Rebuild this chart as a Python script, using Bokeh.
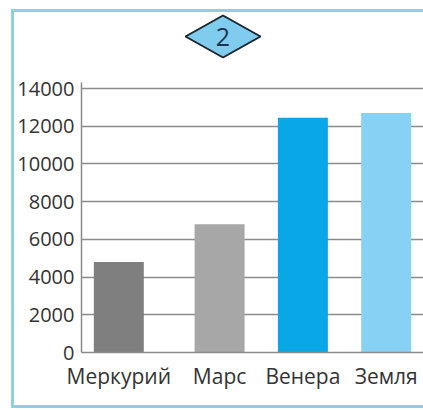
from bokeh.plotting import figure
from bokeh.models import (FactorRange, Range1d, PolyAnnotation,
                          Label, ColumnDataSource, FixedTicker)
from bokeh.embed import file_html
from bokeh.resources import INLINE

# ---- data ----
planets = ["Меркурий", "Марс", "Венера", "Земля"]
groups = ["a", "b", "b", "b"]
values = [4800, 6800, 12450, 12700]
colors = ["#7f7f7f", "#a7a7a7", "#0aa7e7", "#87d1f4"]
y_ticks = [0, 2000, 4000, 6000, 8000, 10000, 12000, 14000]
badge_text = "2"

factors = list(zip(groups, planets))
src = ColumnDataSource(dict(x=factors, top=values, color=colors))

p = figure(width=423, height=410,
           x_range=FactorRange(*factors, group_padding=0.21,
                               range_padding=-0.052, range_padding_units="absolute"),
           y_range=Range1d(0, 18667),
           output_backend="svg", toolbar_location=None,
           min_border_left=81, min_border_right=0,
           min_border_top=0, min_border_bottom=58)

p.vbar(x="x", top="top", width=0.6, color="color", line_color=None, source=src)

p.outline_line_color = None
p.background_fill_color = None
p.border_fill_color = None

# decorative frame (drawn as the element's background, under the canvas)
fc = "#8fd0de"
p.styles = {
    "background-color": "white",
    "background-image": ", ".join([f"linear-gradient({fc},{fc})"] * 3),
    "background-size": "3px 399px, 412px 3px, 412px 3px",
    "background-position": "11px 9px, 11px 9px, 11px 405px",
    "background-repeat": "no-repeat",
}

# grid
p.xgrid.visible = False
p.ygrid.ticker = FixedTicker(ticks=y_ticks)
p.ygrid.grid_line_color = "#8a8a8a"
p.ygrid.grid_line_width = 1.5

# y axis
p.yaxis.ticker = FixedTicker(ticks=y_ticks, minor_ticks=[])
p.yaxis.bounds = (0, 14320)
p.yaxis.major_tick_out = 0
p.yaxis.major_tick_in = 0
p.yaxis.minor_tick_out = 0
p.yaxis.axis_line_color = "#8a8a8a"
p.yaxis.axis_line_width = 1.5
p.yaxis.major_label_standoff = 7
p.yaxis.major_label_text_font = "Open Sans"
p.yaxis.major_label_text_font_size = "20px"
p.yaxis.major_label_text_color = "#333333"

# x axis
p.xaxis.major_tick_out = 0
p.xaxis.major_tick_in = 0
p.xaxis.axis_line_color = "#8a8a8a"
p.xaxis.axis_line_width = 1.5
p.xaxis.major_label_standoff = 9
p.xaxis.major_label_text_font = "Open Sans"
p.xaxis.major_label_text_font_size = "21px"
p.xaxis.major_label_text_color = "#333333"
p.xaxis.group_text_font_size = "0px"
p.xaxis.group_text_alpha = 0
p.xaxis.separator_line_alpha = 0

# badge
p.add_layout(PolyAnnotation(xs=[185, 222.5, 260, 222.5], ys=[36, 15, 36, 57],
                            xs_units="canvas", ys_units="canvas",
                            fill_color="#80ccef", fill_alpha=1,
                            line_color="#1c2630", line_alpha=1, line_width=2))
p.add_layout(Label(x=222.5, y=36, x_units="canvas", y_units="canvas",
                   text=badge_text, text_align="center", text_baseline="middle",
                   text_font="Open Sans", text_font_size="25px",
                   text_color="#1f3450"))

open("out.html", "w").write(file_html(p, INLINE))
